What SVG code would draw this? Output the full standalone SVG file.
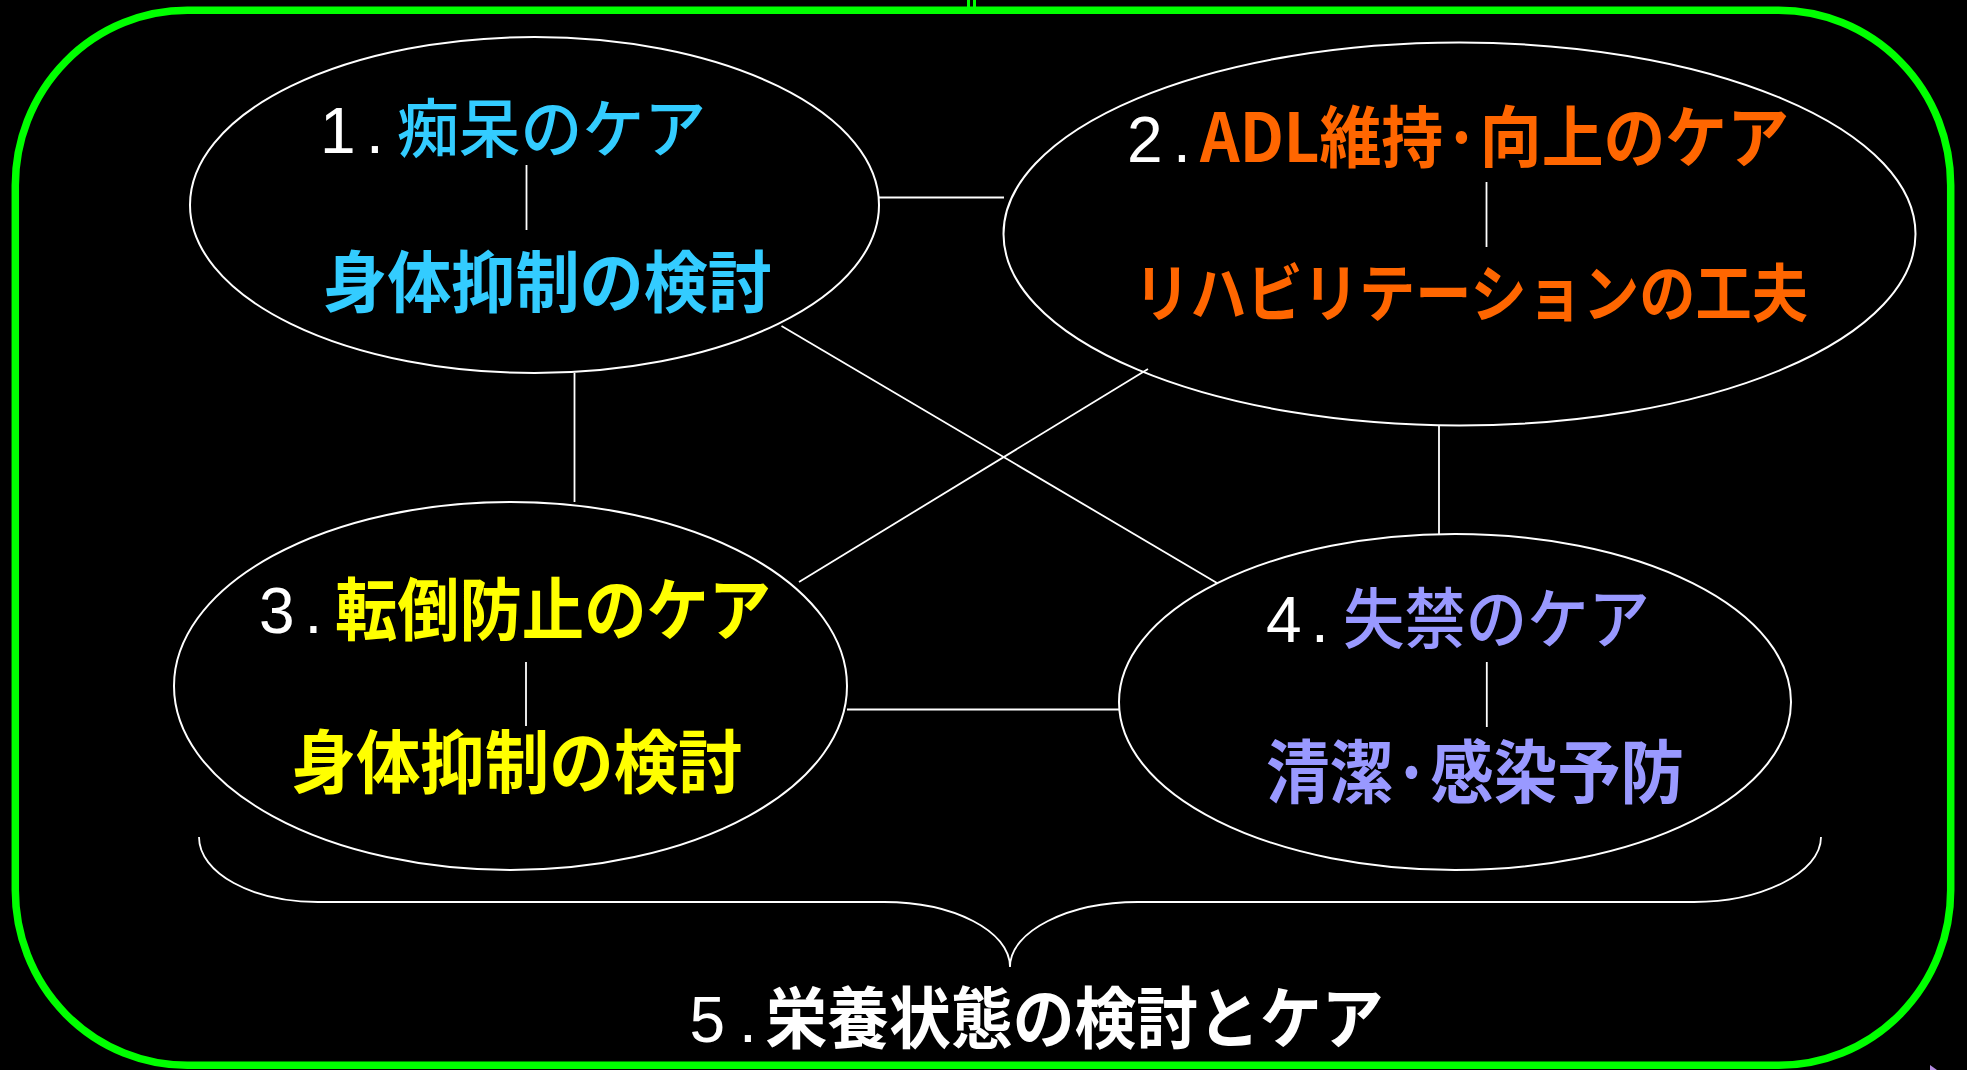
<svg xmlns="http://www.w3.org/2000/svg" width="1967" height="1070" viewBox="0 0 1967 1070">
<style>
.bg{fill:#000}
.frame{fill:none;stroke:#00ff00;stroke-width:7.5}
.ell{fill:none;stroke:#fff;stroke-width:2}
.ln{stroke:#fff;stroke-width:1.8;fill:none}
.num{font-family:"Liberation Sans","Noto Sans CJK JP",sans-serif;font-size:64px;fill:#fff}
.jp{font-family:"Noto Sans CJK JP","Noto Sans",sans-serif;font-weight:700}
.med{font-weight:500}
.c1{fill:#33ccff}
.c2{fill:#ff6600}
.c3{fill:#ffff00}
.c4{fill:#9999ff}
.c5{fill:#ffffff}
</style>
<rect class="bg" x="0" y="0" width="1967" height="1070"/>
<rect class="frame" x="15.3" y="10.3" width="1935.4" height="1055" rx="172" ry="175"/>
<path d="M968.5,0 V7 M974.5,0 V7" stroke="#00ff00" stroke-width="3"/>
<polygon points="1930,1065 1937,1070 1930,1070" fill="#b48be0"/>

<g id="connectors">
<line class="ln" x1="879" y1="197.5" x2="1004" y2="197.5"/>
<line class="ln" x1="574.5" y1="373" x2="574.5" y2="502"/>
<line class="ln" x1="781.5" y1="326" x2="1217" y2="583"/>
<line class="ln" x1="1148" y1="369" x2="799" y2="582"/>
<line class="ln" x1="1439" y1="425" x2="1439" y2="534"/>
<line class="ln" x1="847" y1="709.5" x2="1119" y2="709.5"/>
<path class="ln" d="M199,837 C199,873 252,902 318,902 L884,902 C953.5,902 1010,931 1010,967 C1010,931 1068.5,902 1138,902 L1694,902 C1761,902 1821,873 1821,837"/>
</g>

<g id="node1">
<ellipse class="ell" cx="534.5" cy="205" rx="344.5" ry="168"/>
<line class="ln" x1="526.5" y1="165" x2="526.5" y2="230"/>
<text class="num" y="152.7"><tspan x="320">1</tspan><tspan x="366">.</tspan></text>
<text class="jp med c1" x="397" y="152.2" font-size="64" textLength="309" lengthAdjust="spacingAndGlyphs">痴呆のケア</text>
<text class="jp c1" x="323" y="307" font-size="67" textLength="449" lengthAdjust="spacingAndGlyphs">身体抑制の検討</text>
</g>

<g id="node2">
<ellipse class="ell" cx="1459.5" cy="234" rx="456" ry="191.5"/>
<line class="ln" x1="1486.5" y1="182" x2="1486.5" y2="247"/>
<text class="num" y="161.7"><tspan x="1127">2</tspan><tspan x="1173">.</tspan></text>
<text class="jp c2" x="1200" y="162" font-size="67" textLength="589" lengthAdjust="spacingAndGlyphs">ADL維持·向上のケア</text>
<text class="jp c2" x="1134" y="315.5" font-size="63" textLength="674" lengthAdjust="spacingAndGlyphs">リハビリテーションの工夫</text>
</g>

<g id="node3">
<ellipse class="ell" cx="510.5" cy="686" rx="336.5" ry="184"/>
<line class="ln" x1="526" y1="662" x2="526" y2="726"/>
<text class="num" y="633"><tspan x="259">3</tspan><tspan x="304.6">.</tspan></text>
<text class="jp c3" x="335" y="635.2" font-size="68" textLength="436" lengthAdjust="spacingAndGlyphs">転倒防止のケア</text>
<text class="jp c3" x="291.5" y="788" font-size="69" textLength="451" lengthAdjust="spacingAndGlyphs">身体抑制の検討</text>
</g>

<g id="node4">
<ellipse class="ell" cx="1455" cy="702" rx="336" ry="168"/>
<line class="ln" x1="1486.8" y1="662" x2="1486.8" y2="727"/>
<text class="num" y="641.7"><tspan x="1266">4</tspan><tspan x="1311">.</tspan></text>
<text class="jp med c4" x="1343" y="642.7" font-size="66" textLength="307" lengthAdjust="spacingAndGlyphs">失禁のケア</text>
<text class="jp c4" x="1266" y="797.7" font-size="69" textLength="418" lengthAdjust="spacingAndGlyphs">清潔·感染予防</text>
</g>

<g id="node5">
<text class="num" y="1041.7"><tspan x="689.5">5</tspan><tspan x="739">.</tspan></text>
<text class="jp c5" x="765.5" y="1043" font-size="67" textLength="618" lengthAdjust="spacingAndGlyphs">栄養状態の検討とケア</text>
</g>
</svg>
